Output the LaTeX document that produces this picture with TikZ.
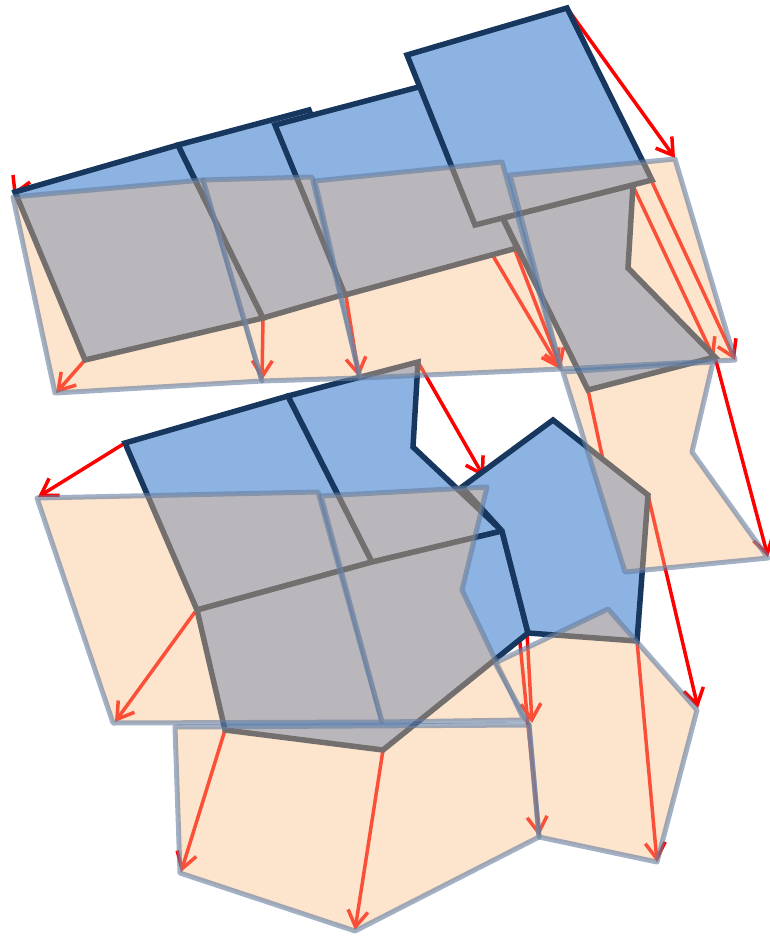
\documentclass[tikz,border=0pt]{standalone}
\usetikzlibrary{arrows.meta}
\definecolor{bfill}{RGB}{141,179,226}
\definecolor{bline}{RGB}{23,55,94}
\definecolor{ofill}{RGB}{247,190,135}
\definecolor{oline}{RGB}{100,125,160}
\definecolor{rarrow}{RGB}{255,0,0}
\begin{document}
\begin{tikzpicture}[x=1pt,y=-1pt,
  bpoly/.style={fill=bfill,draw=bline,line width=5.5pt,line join=miter},
  opoly/.style={fill=ofill,fill opacity=0.42,draw=oline,draw opacity=0.6,line width=5pt,line join=round},
  arrw/.style={draw=rarrow,line width=3.5pt,-{Straight Barb[length=16pt,width=20pt]}}]
\useasboundingbox (0,0) rectangle (769,936);

% ---- displacement arrows (beneath the cells)
\foreach \ax/\ay/\bx/\by in {
  567/8/675/158, 85/360/56/393, 263/318/262/380, 346/296/359/377,
  486/244/560/369, 503/219/561/369, 633/186/714/358, 652/182/735/360,
  715/357/768/557, 588/390/627/572,
  125/443/38/497, 418/362/484/477, 195/612/115/722, 225/730/181/872,
  383/750/355/930, 527/633/532/723, 519/633/539/836, 637/641/657/862,
  648/495/698/708}
  \draw[arrw] (\ax,\ay) -- (\bx,\by);
\coordinate (ta) at (13,175);
\coordinate (tb) at (15,193);
\coordinate (tc) at (30,182);
\draw[rarrow,line width=3.5pt,line join=round] (ta) -- (tb) -- (tc);

% ---- blue cells (before)
\draw[bpoly] (15,192) -- (178,145) -- (263,318) -- (85,360) -- cycle;
\draw[bpoly] (178,145) -- (309,110) -- (380,284) -- (263,318) -- cycle;
\draw[bpoly] (275,125) -- (430,84) -- (503,219) -- (517,248) -- (345,295) -- cycle;
\draw[bpoly] (503,218) -- (633,185) -- (628,268) -- (715,357) -- (588,390) -- cycle;
\draw[bpoly] (407,55) -- (567,8) -- (652,180) -- (475,225) -- cycle;
\draw[bpoly] (125,443) -- (288,396) -- (372,562) -- (197,610) -- cycle;
\draw[bpoly] (288,396) -- (418,362) -- (413,447) -- (502,531) -- (372,562) -- cycle;
\draw[bpoly] (197,610) -- (372,562) -- (502,531) -- (528,633) -- (383,750) -- (225,730) -- cycle;
\draw[bpoly] (462,487) -- (553,420) -- (648,495) -- (637,641) -- (528,633) -- (502,531) -- cycle;

% ---- orange cells (after)
\draw[opoly] (13,197) -- (203,180) -- (262,381) -- (55,393) -- cycle;
\draw[opoly] (203,180) -- (312,177) -- (360,378) -- (262,381) -- cycle;
\draw[opoly] (315,181) -- (502,162) -- (561,369) -- (360,378) -- cycle;
\draw[opoly] (510,175) -- (675,159) -- (735,360) -- (561,369) -- cycle;
\draw[opoly] (563,372) -- (713,362) -- (692,452) -- (768,558) -- (625,572) -- cycle;
\draw[opoly] (37,498) -- (318,492) -- (382,722) -- (113,723) -- cycle;
\draw[opoly] (321,496) -- (487,487) -- (462,590) -- (524,720) -- (382,722) -- cycle;
\draw[opoly] (495,663) -- (608,609) -- (697,710) -- (657,862) -- (539,837) -- (529,725) -- cycle;
\draw[opoly] (175,727) -- (529,725) -- (539,837) -- (355,931) -- (180,873) -- cycle;
\end{tikzpicture}
\end{document}
